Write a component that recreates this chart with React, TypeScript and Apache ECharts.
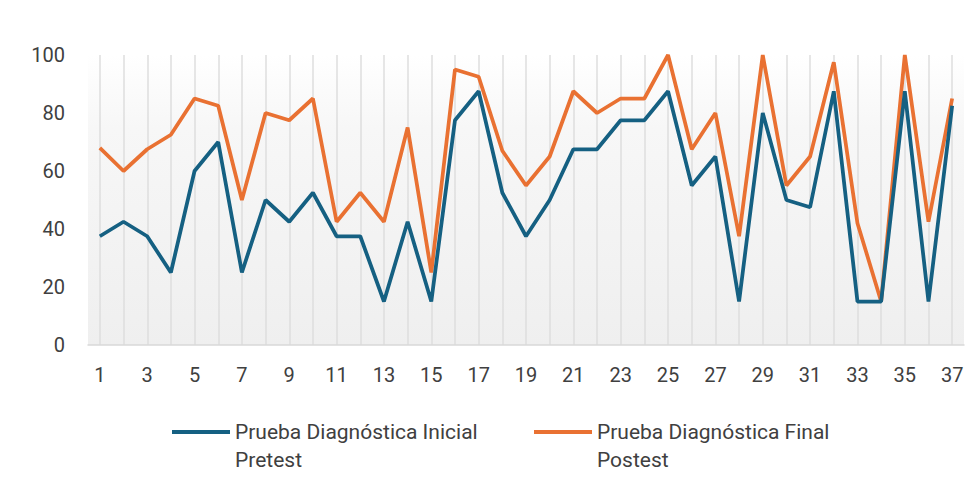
import React, { useEffect, useRef } from "react";
import * as echarts from "echarts";

const categories: string[] = Array.from({ length: 37 }, (_, i) => String(i + 1));

const pretest: number[] = [
  37.5, 42.5, 37.5, 25, 60, 70, 25, 50, 42.5, 52.5,
  37.5, 37.5, 15, 42.5, 15, 77.5, 87.5, 52.5, 37.5, 50,
  67.5, 67.5, 77.5, 77.5, 87.5, 55, 65, 15, 80, 50,
  47.5, 87.5, 15, 15, 87.5, 15, 82.5,
];

const postest: number[] = [
  68, 60, 67.5, 72.5, 85, 82.5, 50, 80, 77.5, 85,
  42.5, 52.5, 42.5, 75, 25, 95, 92.5, 67, 55, 65,
  87.5, 80, 85, 85, 100, 67.5, 80, 37.5, 100, 55,
  65, 97.5, 42, 15, 100, 42.5, 85,
];

const seriesNames: string[] = [
  "Prueba Diagnóstica Inicial",
  "Prueba Diagnóstica Final",
];
const seriesSubtitles: string[] = ["Pretest", "Postest"];

const yTicks = { min: 0, max: 100, interval: 20 };

export default function App() {
  const ref = useRef<HTMLDivElement>(null);
  useEffect(() => {
    if (!ref.current) return;
    const chart = echarts.init(ref.current, null, { renderer: "svg" });
    const font = "Roboto, 'Noto Sans', sans-serif";
    const legendBase = {
      left: 167,
      padding: 5,
      itemWidth: 58,
      itemHeight: 4,
      itemGap: 10,
      icon: "rect",
      data: seriesNames,
      selectedMode: false,
    };
    const legendText = {
      fontSize: 21,
      color: "#404040",
      fontFamily: font,
      lineHeight: 28,
      width: 289,
      overflow: "none",
    };
    chart.setOption({
      animation: false,
      backgroundColor: "#ffffff",
      textStyle: { fontFamily: font },
      grid: [
        {
          left: 88,
          right: 15,
          top: 55,
          bottom: 145,
          show: true,
          borderWidth: 0,
          backgroundColor: new echarts.graphic.LinearGradient(0, 0, 0, 1, [
            { offset: 0, color: "#ffffff" },
            { offset: 0.25, color: "#f7f7f7" },
            { offset: 1, color: "#efefef" },
          ]),
        },
        { left: 100, right: 27, top: 55, bottom: 145 },
      ],
      xAxis: [
        {
          type: "category",
          gridIndex: 0,
          data: categories,
          boundaryGap: true,
          axisLine: { show: true, lineStyle: { color: "#d9d9d9", width: 1.5 } },
          axisTick: { show: false },
          splitLine: { show: false },
          axisLabel: {
            interval: 1,
            margin: 20,
            fontSize: 20,
            color: "#404040",
            fontFamily: font,
          },
        },
        {
          type: "category",
          gridIndex: 1,
          data: categories,
          boundaryGap: false,
          axisLine: { show: false },
          axisTick: { show: false },
          axisLabel: { show: false },
          splitLine: { show: true, interval: 0, lineStyle: { color: "#dedede", width: 1.5 } },
        },
      ],
      yAxis: [
        {
          type: "value",
          gridIndex: 0,
          min: yTicks.min,
          max: yTicks.max,
          interval: yTicks.interval,
          axisLine: { show: false },
          axisTick: { show: false },
          splitLine: { show: false },
          axisLabel: { margin: 23, fontSize: 20, color: "#404040", fontFamily: font },
        },
        {
          type: "value",
          gridIndex: 1,
          min: yTicks.min,
          max: yTicks.max,
          interval: yTicks.interval,
          axisLine: { show: false },
          axisTick: { show: false },
          splitLine: { show: false },
          axisLabel: { show: false },
        },
      ],
      legend: [
        {
          ...legendBase,
          top: 413,
          textStyle: legendText,
        },
        {
          ...legendBase,
          top: 441,
          itemStyle: { opacity: 0 },
          formatter: (name: string) => seriesSubtitles[seriesNames.indexOf(name)],
          textStyle: legendText,
        },
      ],
      series: [
        {
          name: seriesNames[0],
          type: "line",
          xAxisIndex: 0,
          yAxisIndex: 0,
          data: pretest,
          symbol: "none",
          z: 3,
          lineStyle: { color: "#156082", width: 3.75 },
          itemStyle: { color: "#156082" },
        },
        {
          name: seriesNames[1],
          type: "line",
          xAxisIndex: 0,
          yAxisIndex: 0,
          data: postest,
          symbol: "none",
          z: 2,
          lineStyle: { color: "#E97132", width: 3.75 },
          itemStyle: { color: "#E97132" },
        },
      ],
    });
    return () => chart.dispose();
  }, []);
  return <div ref={ref} style={{ width: 979, height: 490, margin: -8 }} />;
}
